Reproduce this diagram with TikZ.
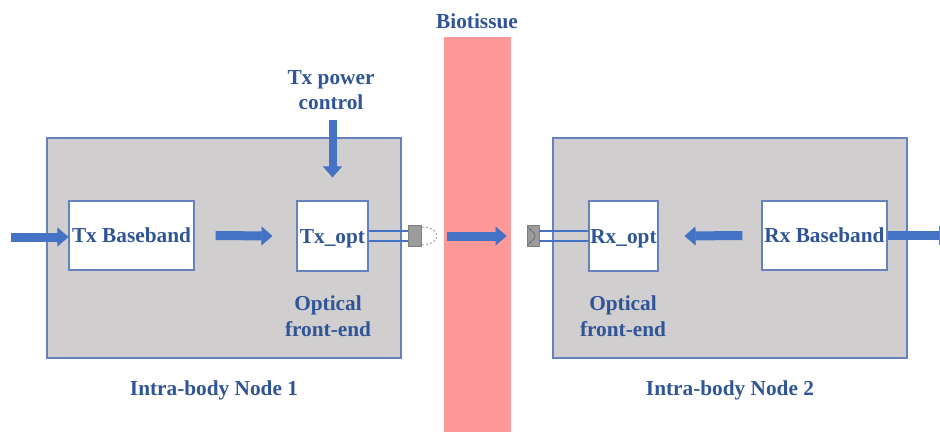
\documentclass[tikz,border=0pt]{standalone}
\usepackage{fontspec}
\setmainfont{Liberation Serif}
\usetikzlibrary{arrows.meta}
\definecolor{txtblue}{HTML}{2F5597}
\definecolor{arrblue}{HTML}{4472C4}
\definecolor{boxline}{HTML}{6682BE}
\definecolor{nodegray}{HTML}{D0CECE}
\definecolor{tissue}{HTML}{FF9999}
\definecolor{connfill}{HTML}{9C9C9C}
\definecolor{connline}{HTML}{7F7F7F}
\begin{document}
\begin{tikzpicture}[x=1pt,y=-1pt,
  every node/.style={font=\fontsize{21.3}{25.5}\selectfont\bfseries, text=txtblue, inner sep=0pt},
  outerbox/.style={draw=boxline, line width=1.1pt, fill=nodegray, minimum width=354pt, minimum height=220pt},
  innerbox/.style={draw=boxline, line width=1.1pt, fill=white, minimum height=69pt, text height=14pt, text depth=0pt},
  conn/.style={draw=connline, line width=0.8pt, fill=connfill, minimum width=13pt, minimum height=21pt},
  barrow/.style={line width=9pt, draw=arrblue, -{Triangle[length=11pt 0 0,width=19pt 0 0, line width=0.6pt, color=arrblue, fill=arrblue]}},
  fiber/.style={draw=arrblue, line width=1.1pt},
  lbl/.style={align=center}
]
\useasboundingbox (0,0) rectangle (940,432);
\fill[white] (0,0) rectangle (940,432);

% outer node boxes
\node[outerbox] (n1) at (224,248) {};
\node[outerbox] (n2) at (730,248) {};

% biotissue
\node[fill=tissue, minimum width=67pt, minimum height=395pt] (bt) at (477.5,234.5) {};
\node (btl) at (477,21) {Biotissue};

% inner blocks
\node[innerbox, minimum width=125pt] (tb) at (131.5,235.5) {Tx Baseband};
\node[innerbox, minimum width=71pt, minimum height=70pt] (tx) at (332.5,236) {Tx\_opt};
\node[innerbox, minimum width=69pt, minimum height=70pt] (rx) at (623.5,236) {Rx\_opt};
\node[innerbox, minimum width=125pt] (rb) at (824.5,235.5) {Rx Baseband};

% optical connectors
\node[conn] (txc) at (415,236) {};
\node[conn, minimum width=12pt] (rxc) at (533,236) {};
\draw[connfill!70!black, line width=0.8pt]
  ([shift={(1pt,-2pt)}]rxc.north west) .. controls ([xshift=11pt]rxc.west) .. ([shift={(1pt,2pt)}]rxc.south west);
\draw[color=black!35, line width=1pt, dash pattern=on 2pt off 2pt]
  ([yshift=-2pt]txc.north east) .. controls +(20,0) and +(20,0) .. ([yshift=2pt]txc.south east);

% fibers
\draw[fiber] ([yshift=5pt]tx.east) -- ([yshift=5pt]txc.west);
\draw[fiber] ([yshift=-5pt]tx.east) -- ([yshift=-5pt]txc.west);
\draw[fiber] ([yshift=5pt]rx.west) -- ([yshift=5pt]rxc.east);
\draw[fiber] ([yshift=-5pt]rx.west) -- ([yshift=-5pt]rxc.east);

% labels
\node[lbl] (pwl) at (331,90) {Tx power\\control};
\node[lbl] (of1) at (328,316) {Optical\\front-end};
\node[lbl] (of2) at (623,316) {Optical\\front-end};
\node (nl1) at (214,390) {Intra-body Node 1};
\node (nl2) at (730,390) {Intra-body Node 2};

% block arrows
\coordinate (in) at (11,237);
\coordinate (out) at (950,235.5);
\coordinate (pw) at (332.5,120);
\draw[barrow] (in) -- (in -| tb.west);
\draw[barrow] ([xshift=21pt]tb.east) -- ([xshift=-24pt]tx.west);
\draw[barrow] ([xshift=25pt]txc.east) -- ([xshift=-20pt]rxc.west);
\draw[barrow] ([xshift=-19pt]rb.west) -- ([xshift=26pt]rx.east);
\draw[barrow] (rb.east) -- (out);
\draw[barrow, line width=8pt] (pw) -- ([yshift=23pt]tx.north);
\end{tikzpicture}
\end{document}
